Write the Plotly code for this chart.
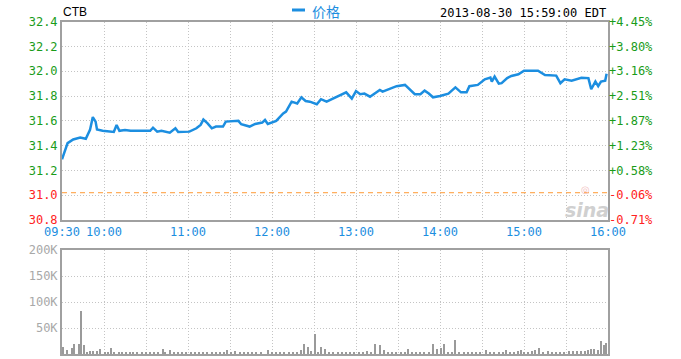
import plotly.graph_objects as go

DATE = "2013-08-30"
symbol = "CTB"
stamp = "2013-08-30 15:59:00 EDT"
series_name = "价格"
prev_close = 31.02

price_times = ["09:30", "09:34", "09:38", "09:43", "09:47", "09:50", "09:52", "09:54", "09:55", "09:59",
               "10:07", "10:09", "10:11", "10:15", "10:19", "10:33", "10:35", "10:38", "10:41", "10:47",
               "10:51", "10:53", "11:01", "11:06", "11:09", "11:11", "11:14", "11:17", "11:20", "11:25",
               "11:27", "11:36", "11:38", "11:44", "11:48", "11:53", "11:55", "11:57", "12:03", "12:08",
               "12:10", "12:14", "12:18", "12:21", "12:24", "12:27", "12:32", "12:35", "12:39", "12:46",
               "12:53", "12:57", "13:00", "13:03", "13:06", "13:10", "13:17", "13:19", "13:23", "13:29",
               "13:35", "13:42", "13:46", "13:49", "13:52", "13:55", "14:00", "14:06", "14:11", "14:15",
               "14:19", "14:21", "14:27", "14:32", "14:36", "14:37", "14:39", "14:42", "14:44", "14:48",
               "14:51", "14:56", "15:00", "15:10", "15:15", "15:23", "15:26", "15:29", "15:34", "15:38",
               "15:41", "15:46", "15:48", "15:51", "15:53", "15:55", "15:58", "15:59"]
prices = [31.29, 31.42, 31.45, 31.465, 31.455, 31.527, 31.63, 31.594, 31.53, 31.52,
          31.51, 31.567, 31.52, 31.527, 31.52, 31.52, 31.545, 31.513, 31.52, 31.505,
          31.54, 31.51, 31.513, 31.54, 31.567, 31.61, 31.58, 31.54, 31.554, 31.554,
          31.594, 31.6, 31.573, 31.554, 31.575, 31.586, 31.607, 31.575, 31.6, 31.66,
          31.675, 31.755, 31.74, 31.79, 31.76, 31.755, 31.734, 31.775, 31.755, 31.79,
          31.83, 31.78, 31.84, 31.815, 31.82, 31.795, 31.85, 31.836, 31.855, 31.88,
          31.89, 31.815, 31.815, 31.844, 31.82, 31.79, 31.8, 31.82, 31.87, 31.83,
          31.83, 31.88, 31.89, 31.935, 31.95, 31.917, 31.957, 31.9, 31.904, 31.945,
          31.962, 31.976, 32.005, 32.005, 31.97, 31.965, 31.904, 31.935, 31.924, 31.935,
          31.948, 31.945, 31.855, 31.917, 31.88, 31.917, 31.924, 31.98]

vol_times = ["09:31", "09:34", "09:37", "09:39", "09:42", "09:44", "09:46", "09:48", "09:50", "09:52",
             "09:55", "09:57", "10:05", "10:11", "10:16", "10:42", "10:47", "11:28", "11:57", "12:21",
             "12:23", "12:26", "12:31", "12:35", "12:38", "13:14", "13:17", "13:20", "13:37", "13:55",
             "13:58", "14:01", "14:03", "14:11", "14:33", "14:47", "14:56", "14:58", "15:06", "15:11",
             "15:46", "15:50", "15:53", "15:55", "15:57", "15:59",
             "10:01", "10:03", "10:07", "10:13", "10:19", "10:21", "10:24", "10:27", "10:30", "10:33",
             "10:36", "10:39", "10:44", "10:50", "10:53", "10:56", "10:59", "11:02", "11:05", "11:08",
             "11:11", "11:14", "11:17", "11:20", "11:23", "11:26", "11:31", "11:34", "11:37", "11:40",
             "11:43", "11:46", "11:49", "11:52", "12:00", "12:03", "12:06", "12:09", "12:12", "12:15",
             "12:18", "12:28", "12:33", "12:41", "12:44", "12:47", "12:50", "12:53", "12:56", "12:59",
             "13:02", "13:05", "13:08", "13:11", "13:23", "13:26", "13:29", "13:32", "13:35", "13:40",
             "13:43", "13:46", "13:49", "13:52", "14:06", "14:09", "14:14", "14:17", "14:20", "14:23",
             "14:26", "14:29", "14:36", "14:39", "14:42", "14:45", "14:50", "14:53", "15:00", "15:03",
             "15:08", "15:14", "15:17", "15:20", "15:23", "15:26", "15:29", "15:32", "15:35", "15:38",
             "15:41", "15:44", "15:48"]
vol_k = [14, 8, 12, 19, 19, 83, 17, 4, 5, 5,
         5, 9, 11, 4, 4, 9, 7, 7, 8, 8,
         19, 14, 38, 14, 10, 20, 17, 8, 9, 20,
         9, 11, 19, 26, 8, 8, 6, 8, 6, 11,
         7, 10, 7, 25, 18, 22,
         3, 2, 3, 3, 2, 4, 3, 2, 2, 3,
         2, 3, 4, 3, 2, 3, 2, 3, 2, 3,
         2, 3, 2, 4, 3, 2, 3, 5, 3, 4,
         3, 2, 4, 3, 3, 2, 3, 2, 3, 4,
         3, 5, 3, 2, 3, 2, 3, 2, 3, 4,
         3, 4, 5, 3, 3, 2, 3, 2, 3, 2,
         3, 2, 3, 4, 3, 2, 3, 2, 4, 3,
         2, 3, 4, 3, 2, 3, 4, 3, 3, 4,
         7, 3, 5, 4, 3, 2, 4, 5, 5, 5,
         6, 5, 9]

price_ticks = [30.8, 31.0, 31.2, 31.4, 31.6, 31.8, 32.0, 32.2, 32.4]
price_labels = ["30.8", "31.0", "31.2", "31.4", "31.6", "31.8", "32.0", "32.2", "32.4"]
pct_labels = ["-0.71%", "-0.06%", "+0.58%", "+1.23%", "+1.87%", "+2.51%", "+3.16%", "+3.80%", "+4.45%"]
vol_ticks = [50000, 100000, 150000, 200000]
vol_labels = ["50K", "100K", "150K", "200K"]
time_ticks = ["09:30", "10:00", "10:30", "11:00", "11:30", "12:00", "12:30", "13:00", "13:30",
              "14:00", "14:30", "15:00", "15:30", "16:00"]
time_labels = ["09:30", "10:00", "", "11:00", "", "12:00", "", "13:00", "", "14:00", "", "15:00", "", "16:00"]

W, H = 681, 359
BLUE = "#1c8ee0"
GREEN = "#1a9c1a"
RED = "#ff2222"
GRID = "#c4c4c4"
BORDER = "#a0a0a0"
MONO = "DejaVu Sans Mono"


def px(x):
    return x / W


def py(y):
    return 1 - y / H


def dt(t):
    return f"{DATE} {t}:00"


def colored(text, value):
    c = GREEN if value > prev_close else RED
    return f"<span style='color:{c}'>{text}</span>"


xdom = [px(62), px(608)]
fig = go.Figure()

fig.add_trace(go.Scatter(
    x=[dt(t) for t in price_times], y=prices, mode="lines",
    line=dict(color=BLUE, width=2.5), name=series_name, showlegend=False,
    xaxis="x", yaxis="y"))

fig.add_trace(go.Scatter(
    x=[dt(price_times[0])], y=[prices[0]], mode="markers", marker=dict(opacity=0),
    showlegend=False, hoverinfo="skip", xaxis="x", yaxis="y3"))

fig.add_trace(go.Bar(
    x=[dt(t) for t in vol_times], y=[v * 1000 for v in vol_k],
    width=55000, marker=dict(color="#9a9a9a", line=dict(width=0)),
    showlegend=False, xaxis="x2", yaxis="y2"))

xrange = [dt("09:30"), dt("16:00")]
axis_common = dict(showline=True, linecolor=BORDER, linewidth=2, mirror=True,
                   showgrid=True, gridcolor=GRID, griddash="1px,2px", gridwidth=1,
                   zeroline=False, ticks="", automargin=False)

fig.update_layout(
    template="none",
    width=W, height=H, margin=dict(l=0, r=0, t=0, b=0, autoexpand=False),
    paper_bgcolor="white", plot_bgcolor="white",
    showlegend=False, bargap=0,
    xaxis=dict(domain=xdom, anchor="y", type="date", range=xrange,
               tickmode="array", tickvals=[dt(t) for t in time_ticks], ticktext=time_labels,
               tickfont=dict(family=MONO, size=12, color=BLUE), **axis_common),
    yaxis=dict(domain=[py(220), py(21.7)], anchor="x", range=[30.8, 32.4],
               tickmode="array", tickvals=price_ticks,
               ticktext=[colored(t, v) for t, v in zip(price_labels, price_ticks)],
               tickfont=dict(family=MONO, size=12), **axis_common),
    yaxis3=dict(overlaying="y", side="right", anchor="x", range=[30.8, 32.4],
                tickmode="array", tickvals=price_ticks,
                ticktext=[colored(t, v) for t, v in zip(pct_labels, price_ticks)],
                tickfont=dict(family=MONO, size=12), showgrid=False, zeroline=False,
                showline=False, ticks="", automargin=False),
    xaxis2=dict(domain=xdom, anchor="y2", type="date", range=xrange, matches="x",
                tickmode="array", tickvals=[dt(t) for t in time_ticks],
                showticklabels=False, **axis_common),
    yaxis2=dict(domain=[py(354), py(250)], anchor="x2", range=[0, 200000],
                tickmode="array", tickvals=vol_ticks, ticktext=vol_labels,
                tickfont=dict(family=MONO, size=12, color="#a8a8a8"), **axis_common),
)

# previous close reference line
fig.add_shape(type="line", xref="x domain", yref="y", x0=0, x1=1, y0=prev_close, y1=prev_close,
              line=dict(color="#ff9933", width=1, dash="5px,4px"), layer="above")

# legend marker
fig.add_shape(type="line", xref="paper", yref="paper", x0=px(292), x1=px(305), y0=py(10), y1=py(10),
              line=dict(color=BLUE, width=3))

fig.add_annotation(x=px(310), y=py(11), xref="paper", yref="paper", text=series_name,
                   showarrow=False, xanchor="left", yanchor="middle",
                   font=dict(family="Noto Sans CJK SC", size=14, color=BLUE))
fig.add_annotation(x=px(61), y=py(12), xref="paper", yref="paper", text=symbol,
                   showarrow=False, xanchor="left", yanchor="middle",
                   font=dict(family="Liberation Sans", size=12, color="#000000"))
fig.add_annotation(x=px(608), y=py(13), xref="paper", yref="paper", text=stamp,
                   showarrow=False, xanchor="right", yanchor="middle",
                   font=dict(family=MONO, size=12, color="#000000"))
# watermark
fig.add_annotation(x=px(585), y=py(189), xref="paper", yref="paper", text="◎",
                   showarrow=False, xanchor="center", yanchor="middle",
                   font=dict(family="DejaVu Sans", size=10, color="#f2c2c2"))
fig.add_annotation(x=px(587), y=py(210), xref="paper", yref="paper", text="<i><b>sina</b></i>",
                   showarrow=False, xanchor="center", yanchor="middle",
                   font=dict(family="DejaVu Sans", size=19, color="#d0d0d0"))

fig.write_html("out.html", config={"displayModeBar": False},
               post_script="document.body.style.margin='0';")
